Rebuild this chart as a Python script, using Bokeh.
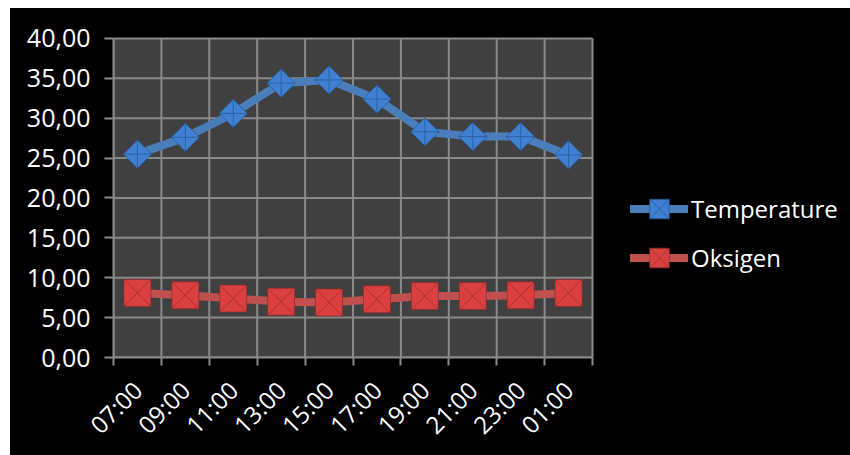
import math
from bokeh.plotting import figure
from bokeh.models import FixedTicker, Legend, LegendItem, ColumnDataSource, Spacer
from bokeh.layouts import column, row
from bokeh.embed import file_html
from bokeh.resources import INLINE

# ---- data ----
times = ["07:00", "09:00", "11:00", "13:00", "15:00", "17:00", "19:00", "21:00", "23:00", "01:00"]
temperature = [25.5, 27.6, 30.6, 34.4, 34.8, 32.4, 28.3, 27.7, 27.7, 25.4]
oksigen = [8.1, 7.8, 7.4, 7.0, 6.9, 7.3, 7.7, 7.7, 7.8, 8.1]
y_ticks = [0, 5, 10, 15, 20, 25, 30, 35, 40]
y_tick_labels = ["0,00", "5,00", "10,00", "15,00", "20,00", "25,00", "30,00", "35,00", "40,00"]
series_names = ["Temperature", "Oksigen"]

FONT = "Open Sans"
GRID = "#8a8a8a"
PLOT_BG = "#404040"
T_LINE, T_FILL, T_EDGE = "#4a7ebb", "#3f80d2", "#24568f"
O_LINE, O_FILL, O_EDGE = "#c0504d", "#d9403f", "#8f2b2a"

n = len(times)
xpos = [i + 0.5 for i in range(n)]
bounds = list(range(n + 1))
y_lo, y_hi = y_ticks[0], y_ticks[-1]

W, H = 840, 447
LEFT, TOP, BOTTOM = 103, 28, 97
PLOT_W = 479                                  # width of the grey plot area in px
x_end = n * (W - LEFT) / PLOT_W              # frame continues to the right for the legend
y_end = y_hi + (y_hi - y_lo) * 2 / (H - TOP - BOTTOM - 2)

src = ColumnDataSource(dict(x=xpos, t=temperature, o=oksigen))

p = figure(width=W, height=H, x_range=(0, x_end), y_range=(y_lo, y_end),
           output_backend="svg", toolbar_location=None,
           background_fill_color="black", border_fill_color="black",
           min_border_left=LEFT, min_border_right=0, min_border_top=TOP, min_border_bottom=BOTTOM)
p.styles = {"background-color": "black"}
p.outline_line_color = None
p.grid.visible = False

# plot area + grid
p.quad(left=[bounds[0]], right=[bounds[-1]], bottom=[y_lo], top=[y_hi], fill_color=PLOT_BG, line_color=None)
p.segment(x0=bounds, y0=[y_lo] * len(bounds), x1=bounds, y1=[y_hi] * len(bounds),
          line_color=GRID, line_width=2)
p.segment(x0=[bounds[0]] * len(y_ticks), y0=y_ticks, x1=[bounds[-1]] * len(y_ticks), y1=y_ticks,
          line_color=GRID, line_width=2)

# y axis
p.yaxis.bounds = (y_lo, y_hi)
p.yaxis.ticker = FixedTicker(ticks=y_ticks)
p.yaxis.major_label_overrides = {t: l for t, l in zip(y_ticks, y_tick_labels)}
p.yaxis.major_label_text_font = FONT
p.yaxis.major_label_text_font_size = "25px"
p.yaxis.major_label_text_color = "white"
p.yaxis.major_label_standoff = 14
p.yaxis.axis_line_color = GRID
p.yaxis.axis_line_width = 2
p.yaxis.major_tick_line_color = GRID
p.yaxis.major_tick_line_width = 2
p.yaxis.major_tick_out = 9
p.yaxis.major_tick_in = 0
p.yaxis.minor_tick_line_color = None

# x axis
p.xaxis.bounds = (bounds[0], bounds[-1])
p.xaxis.ticker = FixedTicker(ticks=xpos, minor_ticks=bounds)
p.xaxis.major_label_overrides = {x: t for x, t in zip(xpos, times)}
p.xaxis.major_label_orientation = math.pi / 4
p.xaxis.major_label_text_font = FONT
p.xaxis.major_label_text_font_size = "24px"
p.xaxis.major_label_text_color = "white"
p.xaxis.major_label_standoff = 20
p.xaxis.axis_line_color = GRID
p.xaxis.axis_line_width = 2
p.xaxis.major_tick_line_color = None
p.xaxis.minor_tick_line_color = GRID
p.xaxis.minor_tick_line_width = 2
p.xaxis.minor_tick_out = 8
p.xaxis.minor_tick_in = 0

# series
t_line = p.line("x", "t", source=src, line_color=T_LINE, line_width=8, line_cap="round", line_join="round")
t_mark = p.scatter("x", "t", source=src, marker="square_x", size=20, angle=math.pi / 4,
                   fill_color=T_FILL, line_color=T_EDGE, line_width=1, line_alpha=0.7)
o_line = p.line("x", "o", source=src, line_color=O_LINE, line_width=8, line_cap="round", line_join="round")
o_mark = p.scatter("x", "o", source=src, marker="square_x", size=27,
                   fill_color=O_FILL, line_color=O_EDGE, line_width=1, line_alpha=0.7)

legend = Legend(items=[LegendItem(label=series_names[0], renderers=[t_line, t_mark]),
                       LegendItem(label=series_names[1], renderers=[o_line, o_mark])],
                location=(517, 75), glyph_width=58, glyph_height=49, spacing=0,
                padding=0, margin=0, label_standoff=3,
                label_text_font=FONT, label_text_font_size="24px", label_text_color="white",
                background_fill_alpha=0, border_line_color=None)
p.add_layout(legend)

layout = column(Spacer(height=8), row(Spacer(width=10), p))
open("out.html", "w").write(file_html(layout, INLINE))
